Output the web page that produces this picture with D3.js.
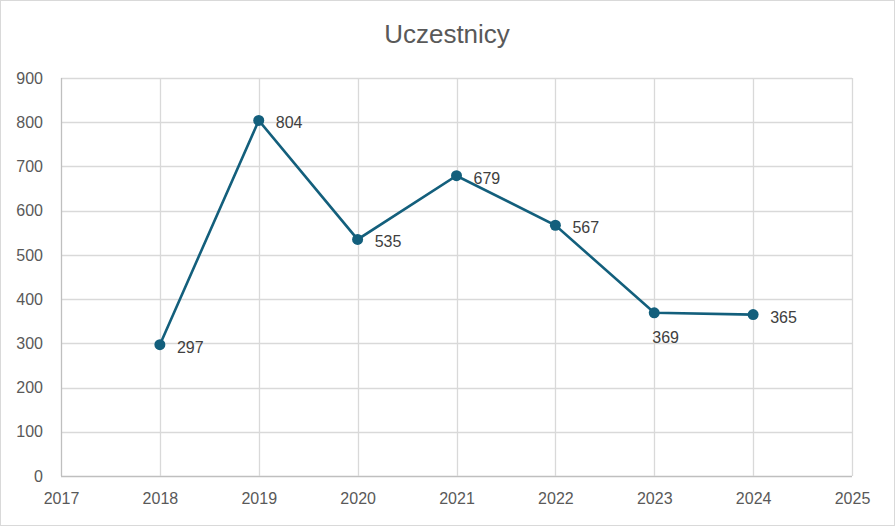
<!DOCTYPE html>
<html><head><meta charset="utf-8">
<script src="https://cdn.jsdelivr.net/npm/d3@7"></script>
<style>body{margin:0;background:#fff;}svg{display:block;font-family:"Liberation Sans",Arial,sans-serif;}</style>
</head><body><svg id="c" width="895" height="526"></svg>
<script>
const title = "Uczestnicy";
const years = [2018, 2019, 2020, 2021, 2022, 2023, 2024];
const values = [297, 804, 535, 679, 567, 369, 365];
const labelPos = ["right", "right", "right", "right", "right", "below", "right"];
const xTicks = [2017, 2018, 2019, 2020, 2021, 2022, 2023, 2024, 2025];
const yTicks = [0, 100, 200, 300, 400, 500, 600, 700, 800, 900];

const svg = d3.select("#c");
const W = 895, H = 526;
const m = {left: 61, right: 43, top: 78, bottom: 50};
const x = d3.scaleLinear().domain([2017, 2025]).range([m.left, W - m.right]);
const y = d3.scaleLinear().domain([0, 900]).range([H - m.bottom, m.top]);
const color = "#135f7c";

svg.append("rect").attr("x", 0.5).attr("y", 0.5).attr("width", W - 1).attr("height", H - 1)
  .attr("fill", "#fff").attr("stroke", "#d9d9d9");

svg.append("text").attr("x", 447).attr("y", 43).attr("text-anchor", "middle")
  .attr("font-size", 26).attr("fill", "#595959").text(title);

const g = svg.append("g");
g.selectAll("line.h").data(yTicks).join("line")
  .attr("x1", m.left).attr("x2", W - m.right)
  .attr("y1", d => Math.round(y(d)) + 0.5).attr("y2", d => Math.round(y(d)) + 0.5)
  .attr("stroke", d => d === 0 ? "#bfbfbf" : "#d9d9d9").attr("stroke-width", 1.3);
g.selectAll("line.v").data(xTicks).join("line")
  .attr("y1", y(900)).attr("y2", y(0))
  .attr("x1", d => Math.round(x(d)) + 0.5).attr("x2", d => Math.round(x(d)) + 0.5)
  .attr("stroke", d => d === 2017 ? "#bfbfbf" : "#d9d9d9").attr("stroke-width", 1.3);

const yAxis = d3.axisLeft(y).tickValues(yTicks).tickSize(0).tickPadding(18);
const ya = svg.append("g").attr("transform", `translate(${m.left},0)`).call(yAxis);
ya.select(".domain").remove();
ya.selectAll("text").attr("font-size", 16).attr("fill", "#595959").attr("font-family", "Liberation Sans, Arial, sans-serif");

const xAxis = d3.axisBottom(x).tickValues(xTicks).tickFormat(d3.format("d")).tickSize(0).tickPadding(17);
const xa = svg.append("g").attr("transform", `translate(0,${y(0)})`).call(xAxis);
xa.select(".domain").remove();
xa.selectAll("text").attr("font-size", 16).attr("fill", "#595959").attr("font-family", "Liberation Sans, Arial, sans-serif");

const pts = years.map((yr, i) => ({yr, v: values[i], pos: labelPos[i]}));
svg.append("path").datum(pts)
  .attr("d", d3.line().x(d => x(d.yr)).y(d => y(d.v)))
  .attr("fill", "none").attr("stroke", color).attr("stroke-width", 2.6);
svg.selectAll("circle.p").data(pts).join("circle")
  .attr("cx", d => x(d.yr)).attr("cy", d => y(d.v)).attr("r", 5.5).attr("fill", color);
svg.selectAll("text.lbl").data(pts).join("text")
  .attr("x", d => d.pos === "below" ? x(d.yr) - 2 : x(d.yr) + 17)
  .attr("y", d => d.pos === "below" ? y(d.v) + 30 : y(d.v) + 8)
  .attr("font-size", 16).attr("fill", "#404040").text(d => d.v);
</script></body></html>
